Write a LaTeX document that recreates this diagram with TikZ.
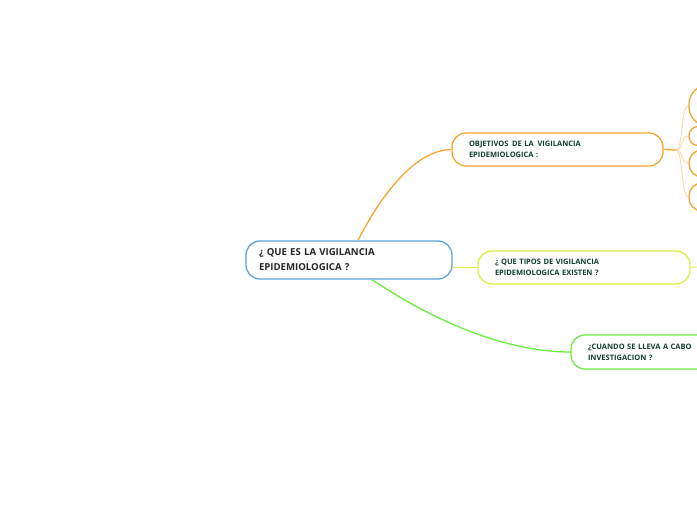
\documentclass[tikz,border=0pt]{standalone}
\usepackage{fontspec}
\setmainfont{Open Sans}
\definecolor{cblue}{HTML}{5AA5DD}
\definecolor{corange}{HTML}{F7A532}
\definecolor{clight}{HTML}{FCD9A2}
\definecolor{cyel}{HTML}{DDF03E}
\definecolor{cgreen}{HTML}{6CEE3E}
\definecolor{ctext}{HTML}{123F2E}
\begin{document}
\begin{tikzpicture}[x=1pt,y=-1pt,
  box/.style={draw, line width=1.3pt, rounded corners=14pt, fill=white, inner ysep=0pt, align=left, anchor=center},
  sub/.style={font=\bfseries\fontsize{7.5}{11}\selectfont, text=ctext, inner xsep=17pt},
  conn/.style={line width=1.3pt}]
\path[use as bounding box] (0,0) rectangle (697,520);
\clip (0,0) rectangle (697,520);
\fill[white] (0,0) rectangle (697,520);

\coordinate (jn) at (676,150);
\coordinate (cx) at (681,0);
\coordinate (te) at (697,267);

\node[box, draw=cblue, minimum width=206pt, minimum height=38pt, text width=180pt, inner xsep=13pt,
  font=\bfseries\fontsize{9.6}{15}\selectfont, text=black!85] (root) at (349,260)
  {¿ QUE ES LA VIGILANCIA\\EPIDEMIOLOGICA ?};

\node[box, sub, draw=corange, minimum width=211pt, minimum height=33pt, text width=177pt] (obj) at (557.5,149.5)
  {OBJETIVOS \,DE LA \,VIGILANCIA\\EPIDEMIOLOGICA :};

\node[box, sub, draw=cyel, minimum width=212pt, minimum height=33pt, text width=178pt] (tip) at (584,267.5)
  {¿ QUE TIPOS DE VIGILANCIA\\EPIDEMIOLOGICA EXISTEN ?};

\node[box, sub, draw=cgreen, minimum width=220pt, minimum height=34pt, text width=186pt] (cua) at (681,352)
  {¿CUANDO SE LLEVA A CABO\\INVESTIGACION ?};

\node[box, draw=corange, minimum width=60pt, minimum height=41pt, rounded corners=19pt] (o1) at (719,105.5) {};
\node[box, draw=corange, minimum width=60pt, minimum height=19pt, rounded corners=9pt] (o2) at (719,136) {};
\node[box, draw=corange, minimum width=60pt, minimum height=27pt, rounded corners=13pt] (o3) at (719,163.5) {};
\node[box, draw=corange, minimum width=60pt, minimum height=28pt, rounded corners=13pt] (o4) at (719,197) {};

\draw[conn, corange] ([xshift=9pt]root.north) .. controls (377,203) and (412,150) .. (obj.west);
\draw[line width=0.8pt, cyel] (root.east |- tip.west) -- (tip.west);
\draw[conn, cgreen] ([xshift=23pt]root.south) .. controls (440,325) and (510,352) .. (cua.west);
\draw[line width=0.8pt, cyel] (tip.east) -- (te);
\draw[conn, corange] (obj.east) -- (jn);
\foreach \n in {o1,o2,o3,o4}
  \draw[line width=0.9pt, clight] (jn) .. controls (683,150) and (cx |- \n.west) .. (\n.west);
\end{tikzpicture}
\end{document}
